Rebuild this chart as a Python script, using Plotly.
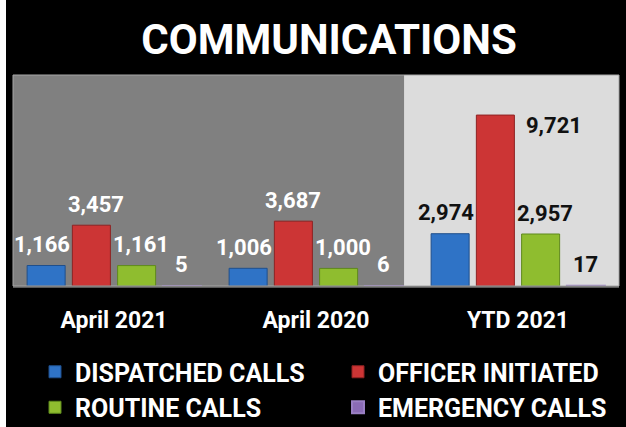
import plotly.graph_objects as go

categories = ["April 2021", "April 2020", "YTD 2021"]
series_names = ["DISPATCHED CALLS", "OFFICER INITIATED", "ROUTINE CALLS", "EMERGENCY CALLS"]
dispatched = [1166, 1006, 2974]
officer = [3457, 3687, 9721]
routine = [1161, 1000, 2957]
emergency = [5, 6, 17]
series_values = [dispatched, officer, routine, emergency]

colors = ["#2f73c6", "#cc3535", "#8fbd2f", "#8a6bb5"]
edge = ["#1f4f8c", "#8e2222", "#5f8a1c", "#9a80c4"]
edge_w = [1, 1, 1, 2]

FONT = "Roboto, DejaVu Sans, sans-serif"

W, H = 626, 427
ML, MR, MT, MB = 13, 7, 75, 141
plot_w = W - ML - MR
plot_h = H - MT - MB
bargap, bargroupgap = 0.104, 0.16

fig = go.Figure()
for name, vals, c, e, lw in zip(series_names, series_values, colors, edge, edge_w):
    fig.add_trace(go.Bar(
        x=categories, y=vals, name=name,
        marker=dict(color=c, line=dict(color=e, width=lw)),
        hoverinfo="x+y+name",
    ))

# data labels as annotations above each bar
cat_px = plot_w / len(categories)
slot = cat_px * (1 - bargap) / len(series_names)
label_color_by_cat = ["white", "white", "#111111"]
for si, vals in enumerate(series_values):
    off = (si - (len(series_names) - 1) / 2) * slot
    for ci, (cat, v) in enumerate(zip(categories, vals)):
        xs, ys, xa, ya = off, 21, "center", "middle"
        if si == 0:
            xs -= 4
        if si == 2:
            xs += 4
        if ci == 0 and si == 1:
            xs += 5
        if ci == 2 and si == 1:
            xs += slot / 2 + 6
            ys = -10
            xa = "left"
        fig.add_annotation(
            x=cat, y=v, xref="x", yref="y", text=f"{v:,}", showarrow=False,
            xshift=xs, yshift=ys, xanchor=xa, yanchor=ya,
            font=dict(family=FONT, size=22, color=label_color_by_cat[ci], weight="bold"),
        )

# panel backgrounds
fig.add_shape(type="rect", xref="x", yref="paper", x0=-0.5, x1=1.436, y0=0, y1=1,
              fillcolor="#808080", line=dict(width=0), layer="below")
fig.add_shape(type="rect", xref="x", yref="paper", x0=1.436, x1=2.5, y0=0, y1=1,
              fillcolor="#dcdcdc", line=dict(width=0), layer="below")
fig.add_shape(type="rect", xref="paper", yref="paper", x0=0, x1=1, y0=0, y1=1,
              fillcolor="rgba(0,0,0,0)", line=dict(color="#a6a6a6", width=1), layer="above")
# white strip at left edge of image
fig.add_shape(type="rect", xref="paper", yref="paper",
              x0=-ML / plot_w, x1=(6 - ML) / plot_w,
              y0=-MB / plot_h, y1=1 + MT / plot_h,
              fillcolor="white", line=dict(width=0), layer="above")

fig.update_layout(
    width=W, height=H,
    margin=dict(l=ML, r=MR, t=MT, b=MB, pad=0, autoexpand=False),
    paper_bgcolor="black", plot_bgcolor="#808080",
    barmode="group", bargap=bargap, bargroupgap=bargroupgap,
    title=dict(text="COMMUNICATIONS", x=329 / W, xanchor="center", y=1 - 39 / H, yanchor="middle",
               font=dict(family=FONT, size=42, color="white", weight="bold")),
    showlegend=True,
    legend=dict(orientation="h", x=(35 - ML) / plot_w, xanchor="left",
                y=-(349 - (H - MB)) / plot_h, yanchor="top",
                entrywidth=258, entrywidthmode="pixels",
                font=dict(family=FONT, size=25, color="white", weight="bold"),
                bgcolor="rgba(0,0,0,0)", borderwidth=0, traceorder="normal"),
    xaxis=dict(type="category", showgrid=False, zeroline=False, showline=True,
               linecolor="#5a5a5a", linewidth=2, ticks="", ticklabelstandoff=12,
               tickfont=dict(family=FONT, size=23, color="white", weight="bold"),
               range=[-0.5, 2.5]),
    yaxis=dict(range=[0, 12000], showgrid=False, zeroline=False, showticklabels=False,
               showline=False),
)

fig.write_html("out.html", config={"displayModeBar": False},
               post_script="document.body.style.margin='0';document.body.style.overflow='hidden';")
